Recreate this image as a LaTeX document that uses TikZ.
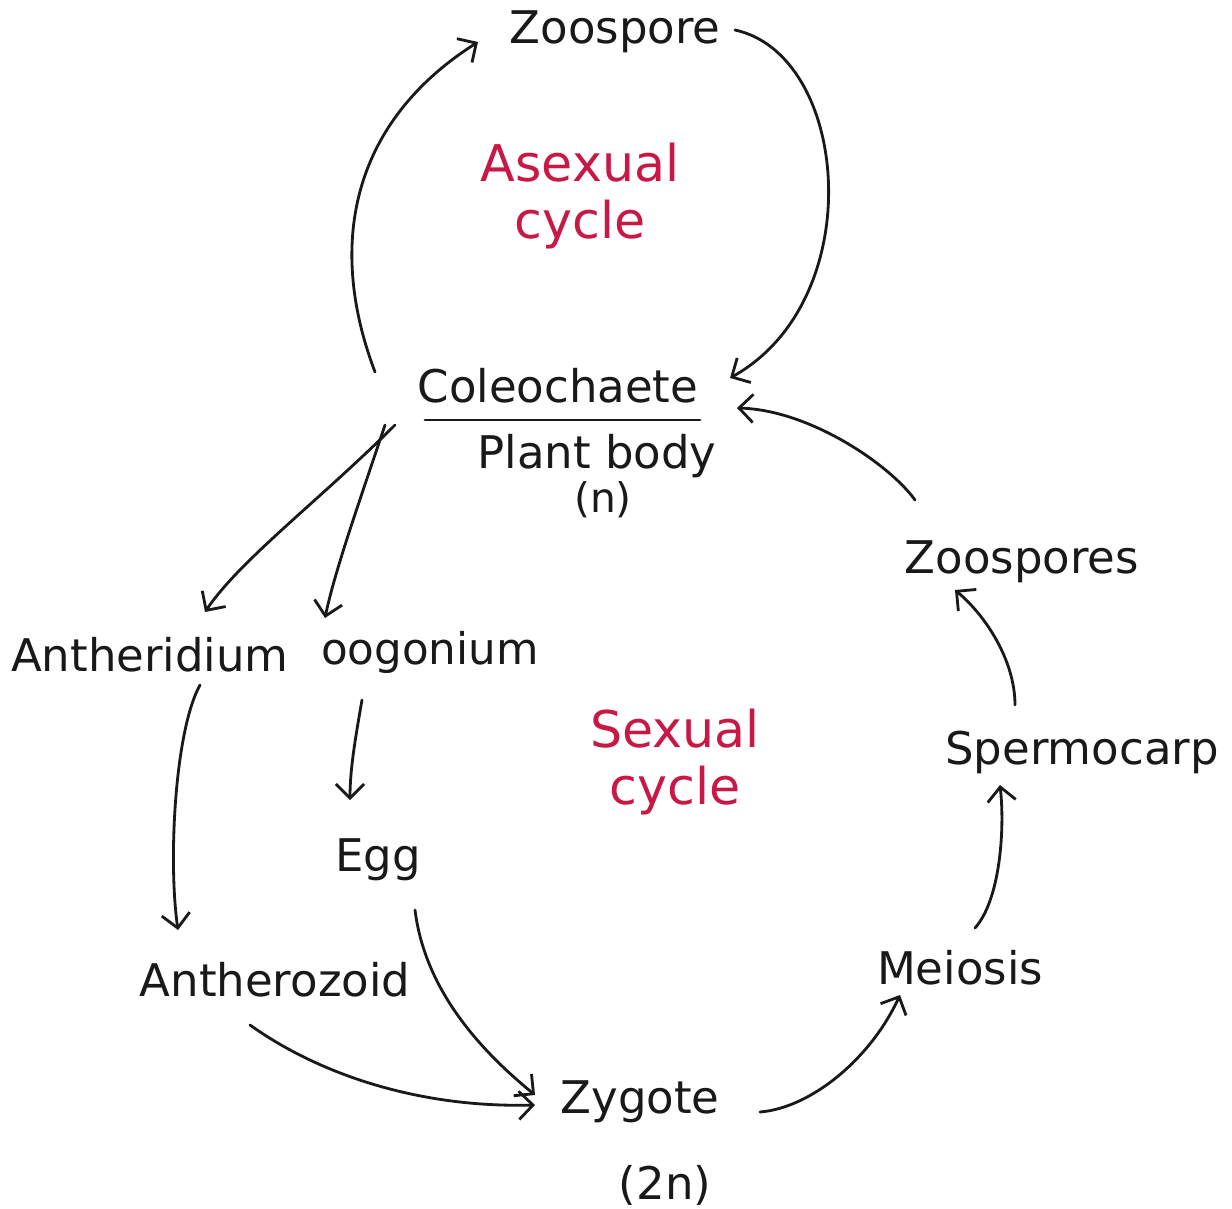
\documentclass[tikz,border=0pt]{standalone}
\usepackage{fontspec}
\setmainfont{DejaVu Sans}
\usetikzlibrary{arrows.meta,calc}
\definecolor{ink}{RGB}{25,25,25}
\definecolor{redink}{RGB}{200,25,70}
\tikzset{
  lbl/.style={inner sep=0pt, text=ink, font=\fontsize{32}{36}\selectfont},
  redlbl/.style={inner sep=0pt, text=redink, align=center, font=\fontsize{36}{40}\selectfont},
  arr/.style={draw=ink, line width=2pt, line cap=round, -{Straight Barb[length=10pt,width=20pt,line width=2pt]}},
  uline/.style={draw=ink, line width=2pt, line cap=round}
}
\begin{document}
\begin{tikzpicture}[x=0.025cm,y=-0.025cm]
\path[use as bounding box, fill=white] (0,0) rectangle (1232,1209);

\node[lbl] (zoo) at (615,32) {Zoospore};
\node[redlbl] (asex) at (580,196) {Asexual\\cycle};
\node[lbl] (cole) at (558,386) {Coleochaete};
\node[lbl] (plant) at (597,456) {Plant body};
\node[lbl, font=\fontsize{29}{34}\selectfont] (n) at (603,500) {(n)};
\node[lbl] (zoos) at (1022,562) {Zoospores};
\node[lbl] (anth) at (150,655) {Antheridium};
\node[lbl, font=\fontsize{31}{36}\selectfont] (oog) at (430,652) {oogonium};
\node[redlbl] (sex) at (675,762) {Sexual\\cycle};
\node[lbl] (sperm) at (1082,752) {Spermocarp};
\node[lbl] (egg) at (378,860) {Egg};
\node[lbl] (antz) at (275,980) {Antherozoid};
\node[lbl] (meio) at (960,968) {Meiosis};
\node[lbl] (zyg) at (640,1102) {Zygote};
\node[lbl] (twon) at (665,1185) {(2n)};

% underline
\draw[uline] ($(cole)+(-133,34)$) -- ($(cole)+(142,34)$);

% asexual cycle
\draw[arr] ($(cole)+(-183,-14)$) .. controls (325,240) and (355,120) .. ($(zoo)+(-137,10)$);
\draw[arr] ($(zoo)+(120,-2)$) .. controls (850,55) and (870,300) .. ($(cole)+(172,-8)$);

% sexual cycle
\draw[arr] ($(cole)+(-163,39)$) .. controls (320,500) and (240,560) .. ($(anth)+(55,-43)$);
\draw[arr] ($(cole)+(-173,39)$) .. controls (360,500) and (335,570) .. ($(oog)+(-105,-34)$);
\draw[arr] ($(anth)+(50,30)$) .. controls (175,730) and (168,860) .. ($(antz)+(-97,-50)$);
\draw[arr] ($(oog)+(-68,48)$) .. controls (355,740) and (350,770) .. ($(egg)+(-28,-60)$);
\draw[arr] ($(egg)+(37,50)$) .. controls (425,990) and (480,1050) .. ($(zyg)+(-105,-7)$);
\draw[arr] ($(antz)+(-25,45)$) .. controls (320,1075) and (420,1108) .. ($(zyg)+(-105,3)$);
\draw[arr] ($(zyg)+(120,10)$) .. controls (810,1108) and (870,1060) .. ($(meio)+(-60,27)$);
\draw[arr] ($(meio)+(15,-40)$) .. controls (1000,900) and (1005,830) .. ($(sperm)+(-82,33)$);
\draw[arr] ($(sperm)+(-67,-47)$) .. controls (1015,660) and (985,615) .. ($(zoos)+(-67,28)$);
\draw[arr] ($(zoos)+(-107,-62)$) .. controls (890,465) and (810,410) .. ($(cole)+(179,22)$);
\end{tikzpicture}
\end{document}
